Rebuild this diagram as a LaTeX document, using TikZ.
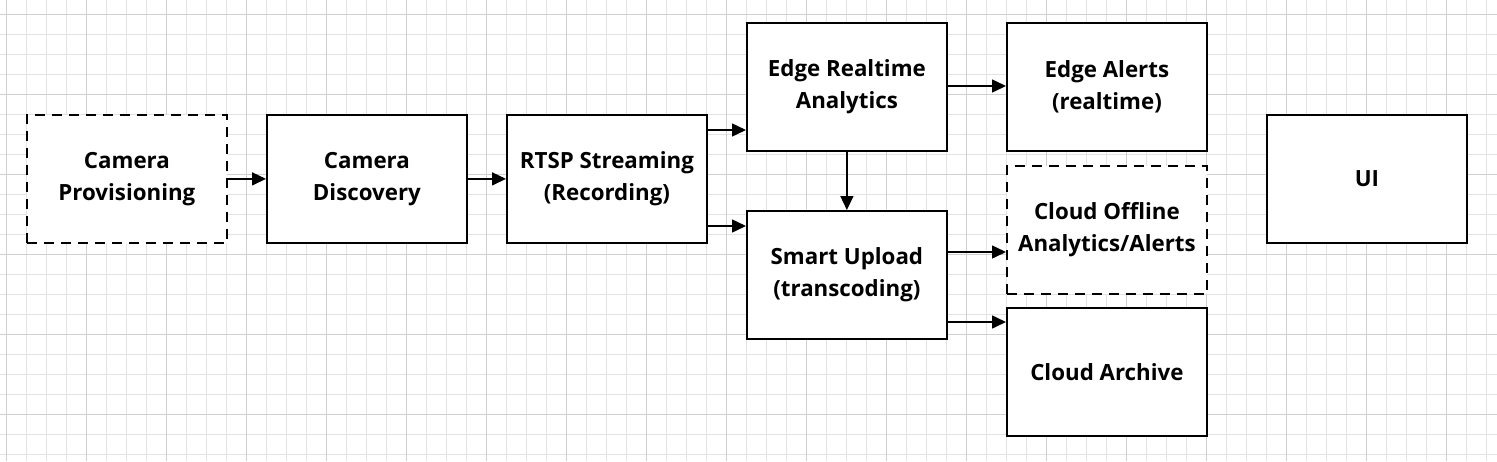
\documentclass[tikz,border=0pt]{standalone}
\usepackage{fontspec}
\setmainfont{Open Sans}
\usetikzlibrary{arrows.meta}
\definecolor{gridminor}{HTML}{E3E3E3}
\definecolor{gridmajor}{HTML}{D0D0D0}
\tikzset{
  box/.style={draw=black, line width=1.8pt, fill=white, minimum width=200pt, minimum height=128pt,
    inner sep=0pt, align=center, font=\bfseries\fontsize{22.3}{32}\selectfont, anchor=north west},
  dbox/.style={box, dash pattern=on 10pt off 7pt},
  conn/.style={line width=1.5pt, -{Triangle[length=14pt,width=13pt]}},
}
\begin{document}
\begin{tikzpicture}[x=1pt,y=-1pt]
\useasboundingbox (0,0) rectangle (1497,461);
\fill[white] (0,0) rectangle (1497,461);
% grid
\foreach \x in {6.7,26.7,...,1497}{\draw[gridminor,line width=0.9pt] (\x,0) -- (\x,461);}
\foreach \y in {14.7,34.7,...,461}{\draw[gridminor,line width=0.9pt] (0,\y) -- (1497,\y);}
\foreach \x in {6.7,86.7,...,1497}{\draw[gridmajor,line width=0.9pt] (\x,0) -- (\x,461);}
\foreach \y in {14.7,94.7,...,461}{\draw[gridmajor,line width=0.9pt] (0,\y) -- (1497,\y);}
% nodes
\node[dbox] (prov) at (26,114) {Camera\\Provisioning};
\node[box] (disc) at (266,114) {Camera\\Discovery};
\node[box] (rtsp) at (506,114) {RTSP Streaming\\(Recording)};
\node[box] (edge) at (746,22) {Edge Realtime\\Analytics};
\node[box] (alert) at (1006,22) {Edge Alerts\\(realtime)};
\node[box] (smart) at (746,210) {Smart Upload\\(transcoding)};
\node[dbox] (offl) at (1006,165) {Cloud Offline\\Analytics/Alerts};
\node[box] (arch) at (1006,307) {Cloud Archive};
\node[box] (ui) at (1266,114) {UI};
% connectors
\draw[conn] (prov.east) -- (disc.west);
\draw[conn] (disc.east) -- (rtsp.west);
\draw[conn] (rtsp.east |- 0,130) -- (edge.west |- 0,130);
\draw[conn] (rtsp.east |- 0,226) -- (smart.west |- 0,226);
\draw[conn] (edge.south) -- (smart.north);
\draw[conn] (edge.east |- 0,86) -- (alert.west |- 0,86);
\draw[conn] (smart.east |- 0,252) -- (offl.west |- 0,252);
\draw[conn] (smart.east |- 0,322) -- (arch.west |- 0,322);
\end{tikzpicture}
\end{document}
